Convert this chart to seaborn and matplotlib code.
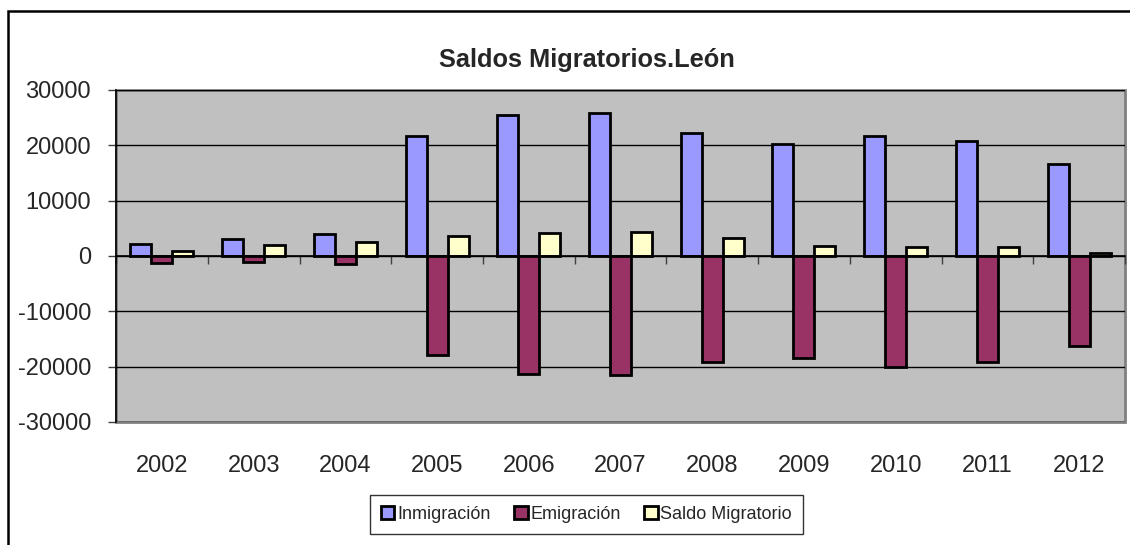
import matplotlib

matplotlib.use("Agg")
import matplotlib.pyplot as plt
import pandas as pd
import seaborn as sns
from matplotlib.patches import Rectangle

years = ["2002", "2003", "2004", "2005", "2006", "2007", "2008", "2009", "2010", "2011", "2012"]
inmigracion = [2200, 3000, 4000, 21600, 25400, 25900, 22300, 20300, 21700, 20800, 16700]
emigracion = [-1300, -1100, -1400, -17900, -21300, -21500, -19100, -18500, -20100, -19200, -16200]
saldo = [900, 1900, 2600, 3700, 4100, 4400, 3200, 1800, 1600, 1600, 500]

series_names = ["Inmigración", "Emigración", "Saldo Migratorio"]
colors = ["#9999FF", "#993366", "#FFFFCC"]

df = pd.DataFrame({
    "Año": years * 3,
    "Serie": [s for s in series_names for _ in years],
    "Valor": inmigracion + emigracion + saldo,
})

sns.set_style("white")
plt.rcParams["font.family"] = ["Liberation Sans Narrow", "Liberation Sans", "DejaVu Sans"]
plt.rcParams["axes.unicode_minus"] = False

fig = plt.figure(figsize=(11.3, 5.45), dpi=100)
ax = fig.add_axes([0.1027, 0.2257, 0.8929, 0.6092])

sns.barplot(
    data=df, x="Año", y="Valor", hue="Serie", hue_order=series_names,
    palette=colors, width=0.687, edgecolor="black", linewidth=2,
    saturation=1, ax=ax,
)

ax.set_facecolor("#C0C0C0")
ax.patch.set_edgecolor("#808080")
ax.patch.set_linewidth(2)
for side in ["top", "right"]:
    ax.spines[side].set_visible(False)
ax.spines["left"].set_color("black")
ax.spines["left"].set_linewidth(1.2)
ax.spines["bottom"].set_position(("data", 0))
ax.spines["bottom"].set_color("black")
ax.spines["bottom"].set_linewidth(1.2)

ax.set_ylim(-30000, 30000)
ax.set_xlim(-0.5, len(years) - 0.5)
ax.set_yticks(range(-30000, 30001, 10000))
ax.yaxis.grid(True, color="black", linewidth=1.0)
ax.set_axisbelow(True)
ax.tick_params(axis="y", direction="out", length=6, width=1, color="#404040",
               labelsize=17, pad=12, left=True)
ax.set_xticks(range(len(years)))
ax.set_xticks([i - 0.5 for i in range(len(years) + 1)], minor=True)
ax.tick_params(axis="x", which="major", length=0, labelsize=17, pad=143)
ax.tick_params(axis="x", which="minor", direction="out", length=6, width=1,
               color="#404040", bottom=True)
ax.set_xlabel("")
ax.set_ylabel("")

fig.text(0.519, 0.89, "Saldos Migratorios.León", ha="center", va="center",
         fontsize=18.3, fontweight="bold")

handles, labels = ax.get_legend_handles_labels()
ax.get_legend().remove()
leg = fig.legend(handles, labels, loc="center", bbox_to_anchor=(0.519, 0.056),
                 ncol=3, fontsize=13, frameon=True, fancybox=False,
                 edgecolor="black", handlelength=0.75, handleheight=0.75,
                 handletextpad=0.15, columnspacing=1.3, borderpad=0.6)
leg.get_frame().set_linewidth(1.0)

fig.patches.append(Rectangle((0.0071, -0.1), 1.2, 0.9798 + 0.1, transform=fig.transFigure,
                             fill=False, edgecolor="black", linewidth=1.8))

plt.savefig("out.png", dpi=100)
plt.close()
